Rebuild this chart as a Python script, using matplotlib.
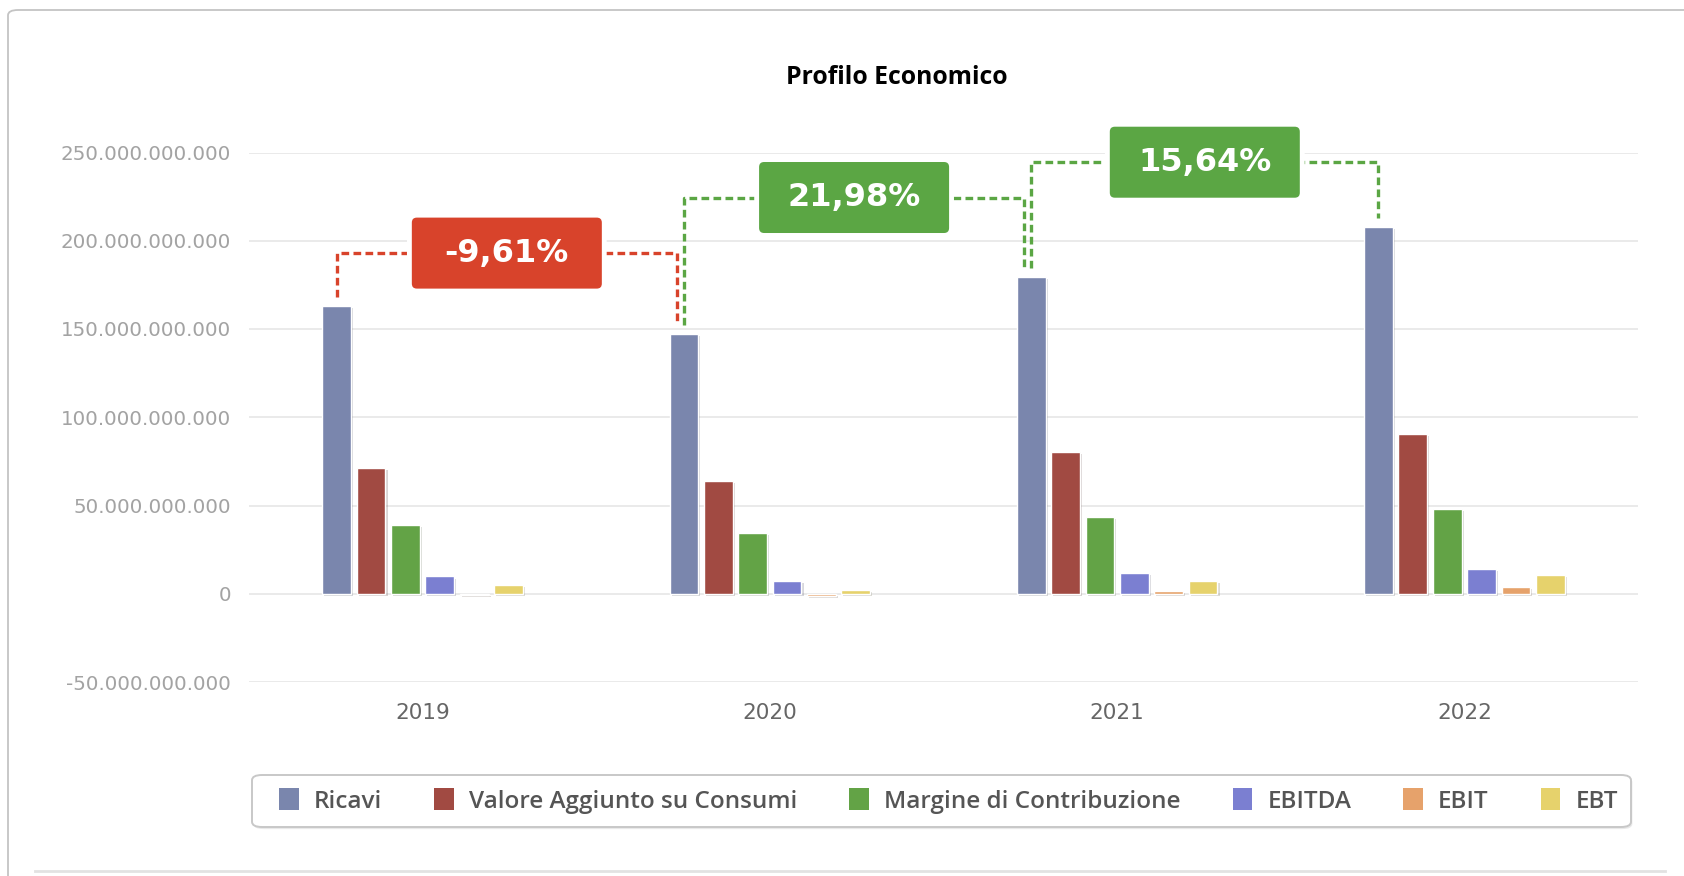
import matplotlib
matplotlib.use("Agg")
import matplotlib.pyplot as plt
import matplotlib.patches as mpatches
import matplotlib.transforms as mtransforms
import matplotlib.patheffects as pe
from matplotlib.lines import Line2D
import numpy as np

# ---------------- data ----------------
years = ["2019", "2020", "2021", "2022"]
series_names = ["Ricavi", "Valore Aggiunto su Consumi", "Margine di Contribuzione",
                "EBITDA", "EBIT", "EBT"]
ricavi = [163.0e9, 147.3e9, 179.7e9, 207.8e9]
valore_aggiunto = [71.3e9, 63.9e9, 80.4e9, 90.6e9]
margine = [38.9e9, 34.2e9, 43.3e9, 48.2e9]
ebitda = [9.8e9, 7.4e9, 11.7e9, 14.2e9]
ebit = [-0.9e9, -1.1e9, 1.8e9, 3.8e9]
ebt = [5.1e9, 2.0e9, 7.4e9, 10.8e9]
series_values = [ricavi, valore_aggiunto, margine, ebitda, ebit, ebt]
colors = ["#7a86ad", "#a14a42", "#63a346", "#7b7fd1", "#e6a26b", "#e6d26c"]

growth_labels = ["-9,61%", "21,98%", "15,64%"]
growth_colors = ["#d8432b", "#5ba644", "#5ba644"]
connector_levels = [193e9, 224.5e9, 244.5e9]

yticks = [-50e9, 0, 50e9, 100e9, 150e9, 200e9, 250e9]
title = "Profilo Economico"

# ---------------- figure ----------------
W, H = 1684, 876
fig = plt.figure(figsize=(W / 100, H / 100), dpi=100)
fig.patch.set_facecolor("white")


def px(x, y):
    return x / W, 1 - y / H


x0, y0 = px(8, 10)
fr = mpatches.FancyBboxPatch((x0, -0.1), 1.2, y0 + 0.1,
                             boxstyle="round,pad=0,rounding_size=0.006",
                             transform=fig.transFigure, facecolor="none",
                             edgecolor="#c4c4c4", lw=1.3, figure=fig, zorder=-2)
fig.patches.append(fr)
fig.add_artist(Line2D([35 / W, 1665 / W], [1 - 871 / H, 1 - 871 / H],
                      transform=fig.transFigure, color="#e2e2e2", lw=2, zorder=-2))

# legend frame (drawn separately for wider horizontal padding), behind the axes
lx0, ly1 = px(252, 775)
lx1, ly0 = px(1631, 827)
lf = mpatches.FancyBboxPatch((lx0, ly0), lx1 - lx0, ly1 - ly0,
                             boxstyle="round,pad=0,rounding_size=0.006",
                             transform=fig.transFigure, facecolor="white",
                             edgecolor="#c8c8c8", lw=1.4, figure=fig, zorder=-1)
lf.set_path_effects([pe.SimplePatchShadow(offset=(1, -1.5), alpha=0.12), pe.Normal()])
fig.patches.append(lf)

left, right = 249, 1638
top, bottom = 152.5, 682
ax = fig.add_axes([left / W, 1 - bottom / H, (right - left) / W, (bottom - top) / H])
ax.set_facecolor("none")
ax.set_zorder(1)

x = np.arange(len(years))
n = len(series_names)
step = 0.099
width = 0.083
for i, (name, vals, col) in enumerate(zip(series_names, series_values, colors)):
    bars = ax.bar(x + (i - (n - 1) / 2) * step, vals, width=width, color=col,
                  edgecolor="white", linewidth=1.0, label=name, zorder=3)
    for b in bars:
        b.set_path_effects([pe.SimplePatchShadow(offset=(1.5, -1.5), alpha=0.18),
                            pe.Normal()])

ax.set_xlim(-0.5, len(years) - 0.5)
ax.set_ylim(-50e9, 250e9)
ax.set_yticks(yticks)
ax.set_yticklabels([f"{int(v):,}".replace(",", ".") for v in yticks])
ax.set_xticks(x)
ax.set_xticklabels(years)
ax.tick_params(axis="y", length=0, pad=13, labelsize=14.3, labelcolor="#a3a3a3")
ax.tick_params(axis="x", length=0, pad=15, labelsize=15.5, labelcolor="#666666")
for s in ax.spines.values():
    s.set_visible(False)
ax.yaxis.grid(True, color="#e6e6e6", lw=1.2, zorder=0)
ax.set_axisbelow(True)

# connectors and growth boxes
off0 = (0 - (n - 1) / 2) * step
gap = 5e9
for k in range(len(years) - 1):
    xa = x[k] + off0
    xb = x[k + 1] + off0 - (0.02 if k + 1 < len(years) - 1 else 0.0)
    lvl = connector_levels[k]
    col = growth_colors[k]
    ax.plot([xa, xa, xb, xb],
            [ricavi[k] + gap, lvl, lvl, ricavi[k + 1] + gap],
            color=col, lw=2.4, linestyle=(0, (2.3, 1.3)), zorder=4, clip_on=False,
            solid_capstyle="butt", dash_capstyle="butt")
    xc = (xa + xb) / 2
    trans = fig.dpi_scale_trans + mtransforms.ScaledTranslation(xc, lvl, ax.transData)
    bw, bh = 1.90, 0.71
    box = mpatches.FancyBboxPatch((-bw / 2, -bh / 2), bw, bh,
                                  boxstyle="round,pad=0,rounding_size=0.05",
                                  transform=trans, facecolor=col, edgecolor="white",
                                  lw=7, zorder=5, clip_on=False)
    ax.add_patch(box)
    box2 = mpatches.FancyBboxPatch((-bw / 2, -bh / 2), bw, bh,
                                   boxstyle="round,pad=0,rounding_size=0.05",
                                   transform=trans, facecolor=col, edgecolor="none",
                                   zorder=6, clip_on=False)
    ax.add_patch(box2)
    ax.text(xc, lvl, growth_labels[k], ha="center", va="center", color="white",
            fontsize=23, fontweight="bold", zorder=7, clip_on=False)

fig.text(897 / W, 1 - 78 / H, title, ha="center", va="center",
         fontsize=17.8, fontweight="bold", fontstretch="normal",
         family="Open Sans", color="#000000")

handles = [mpatches.Patch(facecolor=c, edgecolor="none") for c in colors]
leg = ax.legend(handles, series_names, loc="center",
                bbox_to_anchor=(948.5 / W, 1 - 801 / H), bbox_transform=fig.transFigure,
                ncol=6, frameon=False,
                prop={"family": "Open Sans", "weight": "semibold", "stretch": "normal",
                      "size": 17.5},
                labelcolor="#555555", handlelength=0.8, handleheight=1.0,
                handletextpad=0.62, columnspacing=2.15, borderpad=0.5)

fig.savefig("out.png", dpi=100)
